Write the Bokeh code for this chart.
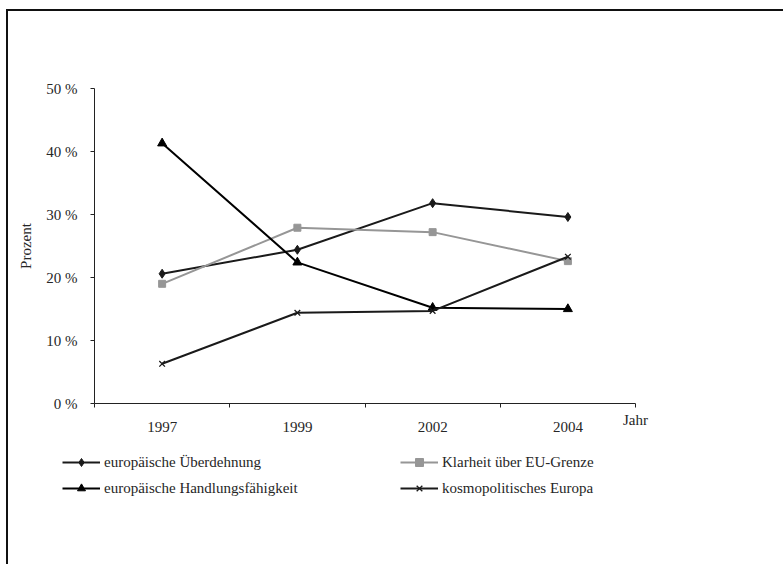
from bokeh.plotting import figure
from bokeh.models import Range1d, FixedTicker, Legend, LegendItem
from bokeh.layouts import column
from bokeh.embed import file_html
from bokeh.resources import INLINE

# ---- data ----
years = ["1997", "1999", "2002", "2004"]
ueberdehnung = [20.6, 24.4, 31.8, 29.6]
klarheit = [19.0, 27.9, 27.2, 22.6]
handlung = [41.3, 22.4, 15.2, 15.0]
kosmo = [6.3, 14.4, 14.7, 23.3]
y_ticks = [0, 10, 20, 30, 40, 50]
y_labels = ["0 %", "10 %", "20 %", "30 %", "40 %", "50 %"]
names = ["europäische Überdehnung", "Klarheit über EU-Grenze",
         "europäische Handlungsfähigkeit", "kosmopolitisches Europa"]

FONT = "Liberation Serif"
TXT = "#262626"

x_pos = [i + 0.5 for i in range(len(years))]

p = figure(width=775, height=440, output_backend="svg", toolbar_location=None,
           x_range=Range1d(0, len(years)), y_range=Range1d(0, 50),
           min_border_left=86, min_border_right=148, min_border_top=77,
           min_border_bottom=48)
p.frame_align = False
p.outline_line_color = None
p.xgrid.visible = False
p.ygrid.visible = False
p.background_fill_color = "white"
p.border_fill_color = "white"

# x axis
xa = p.xaxis[0]
xa.ticker = FixedTicker(ticks=x_pos, minor_ticks=list(range(len(years) + 1)))
xa.major_label_overrides = {x: y for x, y in zip(x_pos, years)}
xa.major_tick_in = 0
xa.major_tick_out = 0
xa.minor_tick_in = 0
xa.minor_tick_out = 4
xa.minor_tick_line_color = "#222222"
xa.axis_line_color = "#222222"
xa.major_label_text_font = FONT
xa.major_label_text_font_size = "15px"
xa.major_label_text_color = TXT
xa.major_label_standoff = 14
xa.axis_label = "Jahr"
xa.axis_label_align = "end"
xa.axis_label_standoff = -23
xa.axis_label_text_font = FONT
xa.axis_label_text_font_size = "15px"
xa.axis_label_text_font_style = "normal"
xa.axis_label_text_color = TXT

# y axis
ya = p.yaxis[0]
ya.ticker = FixedTicker(ticks=y_ticks, minor_ticks=[])
ya.major_label_overrides = {t: l for t, l in zip(y_ticks, y_labels)}
ya.major_tick_in = 0
ya.major_tick_out = 4
ya.major_tick_line_color = "#222222"
ya.axis_line_color = "#222222"
ya.major_label_text_font = FONT
ya.major_label_text_font_size = "15px"
ya.major_label_text_color = TXT
ya.major_label_standoff = 13
ya.axis_label = "Prozent"
ya.axis_label_text_font = FONT
ya.axis_label_text_font_size = "15px"
ya.axis_label_text_font_style = "normal"
ya.axis_label_text_color = TXT
ya.axis_label_standoff = 9

series = [
    (ueberdehnung, "#1a1a1a", "diamond", 9, 1),
    (klarheit, "#969696", "square", 7, 1),
    (handlung, "#000000", "triangle", 9, 1),
    (kosmo, "#1a1a1a", "x", 8, 1.3),
]
for vals, col, mk, sz, lw in series:
    p.line(x_pos, vals, line_color=col, line_width=2)
    p.scatter(x_pos, vals, marker=mk, size=sz, fill_color=col,
              line_color=col, line_width=lw)

# ---- legend strip below the chart (its own renderers lie outside its view) ----
lp = figure(width=775, height=113, output_backend="svg", toolbar_location=None,
            x_range=Range1d(-20, -10), y_range=Range1d(-20, -10),
            x_axis_type=None, y_axis_type=None, min_border=0)
lp.frame_align = False
lp.outline_line_color = None
lp.xgrid.visible = False
lp.ygrid.visible = False
lp.background_fill_color = "white"
lp.border_fill_color = "white"

leg_items = []
for (vals, col, mk, sz, lw), name in zip(series, names):
    ln = lp.line(x_pos, vals, line_color=col, line_width=2)
    sc = lp.scatter(x_pos, vals, marker=mk, size=sz, fill_color=col,
                    line_color=col, line_width=lw)
    leg_items.append(LegendItem(label=name, renderers=[ln, sc]))

for idx, vx in (([0, 2], 54), ([1, 3], 392)):
    leg = Legend(items=[leg_items[i] for i in idx],
                 location=(vx, 66), orientation="vertical",
                 padding=0, margin=0, spacing=6, glyph_width=38, glyph_height=20,
                 label_height=20, label_standoff=4,
                 border_line_color=None, background_fill_alpha=0,
                 label_text_font=FONT, label_text_font_size="15px",
                 label_text_color=TXT)
    lp.add_layout(leg, "center")

layout = column(p, lp, spacing=0,
                styles={"border-top": "2px solid #111111",
                        "border-left": "2px solid #111111",
                        "margin-left": "6px", "margin-top": "9px"})

open("out.html", "w").write(file_html(layout, INLINE))
